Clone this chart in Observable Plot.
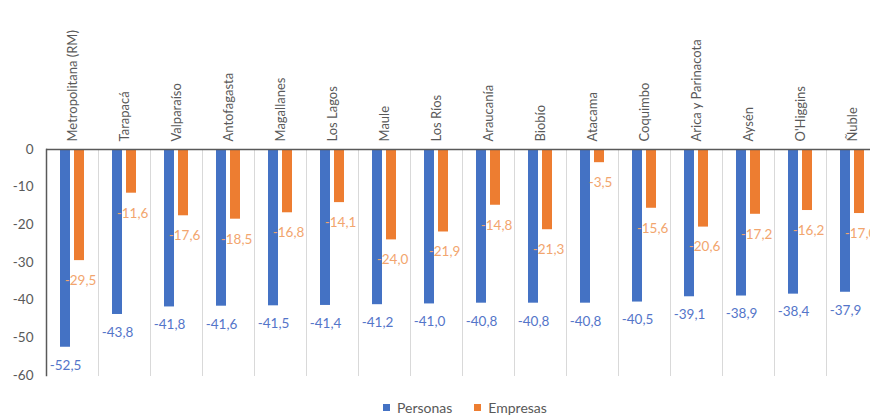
<!DOCTYPE html>
<html>
<head>
<meta charset="utf-8">
<script src="https://cdn.jsdelivr.net/npm/d3@7"></script>
<script src="https://cdn.jsdelivr.net/npm/@observablehq/plot@0.6"></script>
<style>
  html, body { margin: 0; padding: 0; background: #fff; overflow: hidden; }
  #chart { width: 870px; height: 385px; overflow: hidden; }
  #chart svg { max-width: none !important; }
  #legend { width: 870px; display: flex; justify-content: flex-start; padding-left: 383px; box-sizing: border-box; margin-top: 6px; }
  #legend div > span { margin-right: 22px !important; }
</style>
</head>
<body>
<div id="chart"></div>
<div id="legend"></div>
<script>
const regions = ["Metropolitana (RM)", "Tarapacá", "Valparaíso", "Antofagasta", "Magallanes", "Los Lagos", "Maule", "Los Ríos", "Araucanía", "Biobío", "Atacama", "Coquimbo", "Arica y Parinacota", "Aysén", "O'Higgins", "Ñuble"];
const personas = [-52.5, -43.8, -41.8, -41.6, -41.5, -41.4, -41.2, -41.0, -40.8, -40.8, -40.8, -40.5, -39.1, -38.9, -38.4, -37.9];
const empresas = [-29.5, -11.6, -17.6, -18.5, -16.8, -14.1, -24.0, -21.9, -14.8, -21.3, -3.5, -15.6, -20.6, -17.2, -16.2, -17.0];
const seriesNames = ["Personas", "Empresas"];
const yTicks = [0, -10, -20, -30, -40, -50, -60];

const barColors = ["#4472c4", "#ed7d31"];
const labelColors = ["#5475c9", "#f2a56e"];

const data = regions.flatMap((r, i) => [
  {region: r, series: seriesNames[0], value: personas[i]},
  {region: r, series: seriesNames[1], value: empresas[i]}
]);
const fmt = v => v.toFixed(1).replace(".", ",");

const plot = Plot.plot({
  width: 880,
  height: 385,
  marginTop: 149,
  marginBottom: 10,
  marginLeft: 43,
  marginRight: 0,
  style: {fontFamily: "Lato, 'Open Sans', sans-serif", fontSize: "13px", color: "#595959", background: "#fff", maxWidth: "none"},
  fx: {domain: regions, padding: 0, axis: "top", tickRotate: -90, tickSize: 0, tickPadding: 8, label: null},
  x: {domain: seriesNames, axis: null, paddingInner: 0.28, paddingOuter: 0.94},
  y: {domain: [-60, 0], axis: null},
  color: {domain: seriesNames, range: barColors},
  marks: [
    Plot.frame({anchor: "right", stroke: "#d9d9d9"}),
    Plot.frame({anchor: "left", stroke: "#595959", strokeWidth: 1.5, fx: () => regions[0]}),
    Plot.axisY({ticks: yTicks, tickSize: 0, tickPadding: 13, tickFormat: d => String(d), label: null, fontSize: 13.5}),
    Plot.barY(data, {fx: "region", x: "series", y: "value", fill: "series"}),
    Plot.ruleY([0], {stroke: "#595959", strokeWidth: 1.5}),
    Plot.text(data.filter(d => d.series === seriesNames[0]), {fx: "region", x: "series", y: "value", text: d => fmt(d.value), dy: 18, fill: labelColors[0], fontSize: 13.5}),
    Plot.text(data.filter(d => d.series === seriesNames[1]), {fx: "region", x: "series", y: "value", text: d => fmt(d.value), dy: 20, dx: 1, fill: labelColors[1], fontSize: 13.5})
  ]
});
document.getElementById("chart").appendChild(plot);

const legend = plot.legend("color", {swatchSize: 7, style: {fontFamily: "Lato, sans-serif", fontSize: "14px", color: "#595959"}});
document.getElementById("legend").appendChild(legend);
</script>
</body>
</html>
